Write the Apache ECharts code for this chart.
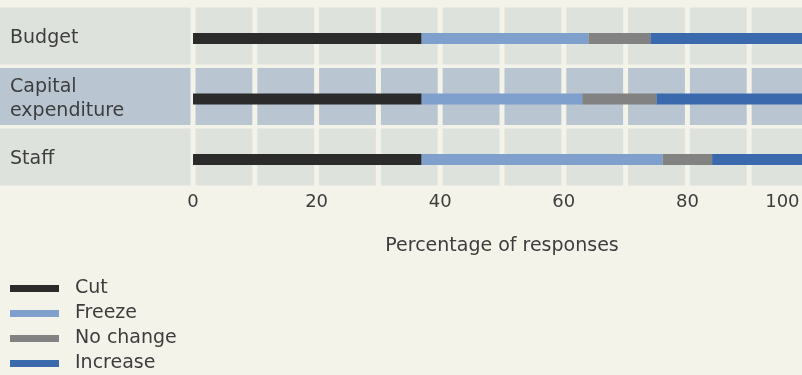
<!DOCTYPE html>
<html>
<head>
<meta charset="utf-8">
<script src="https://cdn.jsdelivr.net/npm/echarts@6/dist/echarts.min.js"></script>
<style>
  html, body { margin: 0; padding: 0; background: #f3f3ea; }
  #chart { width: 802px; height: 375px; }
</style>
</head>
<body>
<div id="chart"></div>
<script>
  // rows, top to bottom
  const categories = ['Budget', 'Capital\nexpenditure', 'Staff'];
  const cut = [37, 37, 37];
  const freeze = [27, 26, 39];
  const noChange = [10, 12, 8];
  const increase = [26, 25, 16];
  const xTicks = [0, 20, 40, 60, 80, 100];

  const font = 'DejaVu Sans';
  const textColor = '#3d3d3d';
  const colors = ['#2b2b2b', '#7f9fcd', '#828282', '#3b69ad'];
  const rowColors = ['#dee2dc', '#b9c5d1'];

  let chart = echarts.init(document.getElementById('chart'));

  // background bands and cells, one item per row
  function renderRow(params, api) {
    let idx = api.value(1);
    let cy = api.coord([0, idx])[1] - 2.5;
    let h = 57;
    let fill = rowColors[idx % 2];
    let children = [];
    let x0 = api.coord([0, idx])[0];
    children.push({
      type: 'rect',
      shape: { x: 0, y: cy - h / 2, width: x0 - 2.5, height: h },
      style: { fill: fill }
    });
    for (let k = 0; k < 10; k++) {
      let a = api.coord([k * 10, idx])[0];
      let b = api.coord([k * 10 + 10, idx])[0];
      children.push({
        type: 'rect',
        shape: { x: a + 2.5, y: cy - h / 2, width: b - a - 5, height: h },
        style: { fill: fill }
      });
    }
    return { type: 'group', children: children };
  }

  function barSeries(name, data, color) {
    return {
      name: name,
      type: 'bar',
      stack: 'all',
      barWidth: 11,
      itemStyle: { color: color },
      data: data,
      z: 3
    };
  }

  chart.setOption({
    animation: false,
    backgroundColor: '#f3f3ea',
    textStyle: { fontFamily: font },
    grid: { left: 193, width: 618, top: 8.25, height: 181.5, outerBoundsMode: 'none', containLabel: false },
    legend: {
      orient: 'vertical',
      left: 10,
      top: 277,
      padding: 0,
      icon: 'rect',
      itemWidth: 49,
      itemHeight: 7,
      itemGap: 2,
      selectedMode: false,
      textStyle: { fontFamily: font, fontSize: 19, lineHeight: 23, color: textColor, padding: [0, 0, 0, 11] },
      data: ['Cut', 'Freeze', 'No change', 'Increase']
    },
    xAxis: {
      type: 'value',
      min: 0,
      max: 100,
      interval: 20,
      z: 10,
      name: 'Percentage of responses',
      nameLocation: 'middle',
      nameGap: 47,
      nameTextStyle: { fontFamily: font, fontSize: 19, color: textColor },
      axisLine: { show: false },
      axisTick: { show: false },
      splitLine: { show: false },
      axisLabel: {
        margin: 4,
        fontFamily: font,
        fontSize: 18,
        color: textColor,
        alignMaxLabel: 'right',
        // the last label sits inside the page edge
        formatter: function (v) {
          return xTicks.indexOf(v) === xTicks.length - 1 ? v + '\u00a0\u00a0' : String(v);
        }
      }
    },
    yAxis: {
      type: 'category',
      inverse: true,
      z: 10,
      data: categories,
      axisLine: { show: false },
      axisTick: { show: false },
      splitLine: { show: false },
      axisLabel: {
        align: 'left',
        margin: 183,
        fontFamily: font,
        fontSize: 19,
        lineHeight: 24,
        color: textColor
      }
    },
    series: [
      {
        type: 'custom',
        renderItem: renderRow,
        silent: true,
        z: 1,
        encode: { x: 0, y: 1 },
        data: categories.map(function (c, i) { return [0, i]; })
      },
      barSeries('Cut', cut, colors[0]),
      barSeries('Freeze', freeze, colors[1]),
      barSeries('No change', noChange, colors[2]),
      barSeries('Increase', increase, colors[3])
    ]
  });
</script>
</body>
</html>
